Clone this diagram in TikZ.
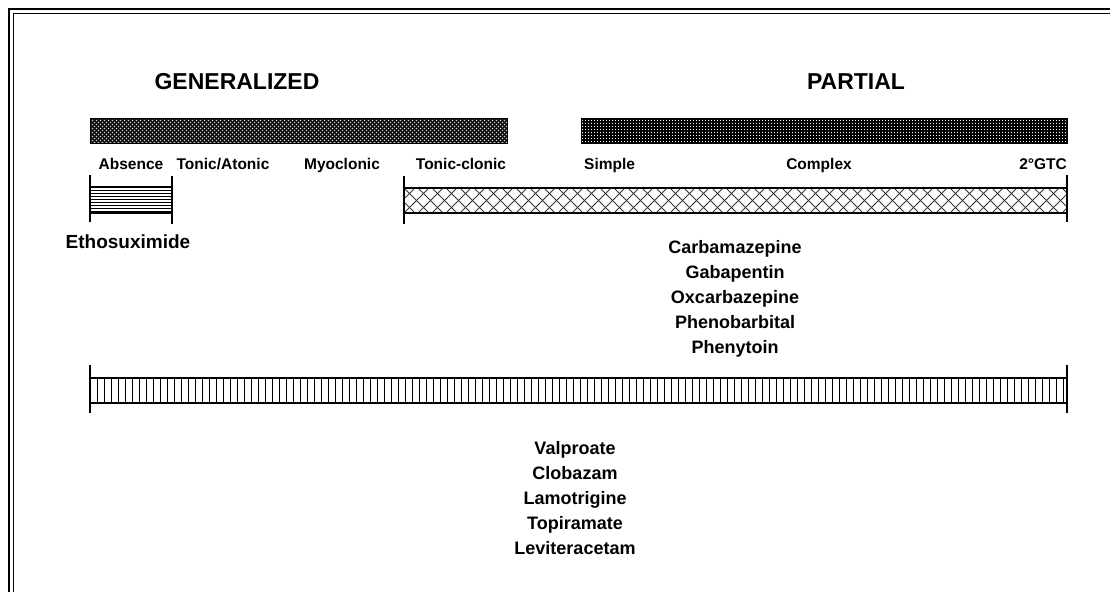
\documentclass[tikz,border=0pt]{standalone}
\usepackage{fontspec}
\setmainfont{Liberation Sans}
\begin{document}
\begin{tikzpicture}[x=1pt,y=-1pt,
  title/.style={font=\fontsize{23}{27}\selectfont\bfseries, inner sep=0pt, anchor=base},
  kind/.style={font=\fontsize{15.5}{18}\selectfont\bfseries, inner sep=0pt, anchor=base},
  drug/.style={font=\fontsize{18}{25}\selectfont\bfseries, inner sep=0pt, anchor=base, align=center},
  tickline/.style={line width=1.2pt},
  edgeline/.style={line width=1.3pt},
  hatchline/.style={line width=0.9pt}]

\useasboundingbox (0,0) rectangle (1110,592);

% double frame along the top and left
\draw[line width=2pt] (8.5,592) -- (8.5,8.5) -- (1110,8.5);
\draw[line width=1.6pt] (13.5,592) -- (13.5,13.5) -- (1110,13.5);

% headings
\node[title] (gen) at (237,89) {GENERALIZED};
\node[title] (par) at (856,89) {PARTIAL};

% generalized band: fine crosshatch
\begin{scope}
  \clip (90,118) rectangle (507,143);
  \fill[black!20] (90,118) rectangle (507,143);
  \foreach \x in {60,64,...,512} {
    \draw[line width=1.1pt] (\x,143) -- ++(25,-25);
    \draw[line width=1.1pt] (\x,118) -- ++(25,25);
  }
\end{scope}
\draw[line width=0.8pt] (90,118) rectangle (507,143);

% partial band: black with white dots
\fill[black] (581,118) rectangle (1067,143);
\foreach \x in {582.5,585.5,...,1066} {
  \draw[white, line width=1pt, dash pattern=on 1pt off 2pt] (\x,119.5) -- (\x,142);
}
\draw[line width=0.8pt] (581,118) rectangle (1067,143);

% seizure types
\node[kind] (abs) at (131,169) {Absence};
\node[kind] (ton) at (223,169) {Tonic/Atonic};
\node[kind] (myo) at (342,169) {Myoclonic};
\node[kind] (tcl) at (461,169) {Tonic-clonic};
\node[kind, anchor=base west] (sim) at (584,169) {Simple};
\node[kind] (cpx) at (819,169) {Complex};
\node[kind, anchor=base east] (gtc) at (1067,169) {2°GTC};

% ethosuximide range: horizontal stripes
\foreach \y in {190,193,...,211} {
  \draw[hatchline] (90,\y) -- (172,\y);
}
\draw[edgeline] (90,187) rectangle (172,213);
\draw[tickline] (90,175) -- (90,222);
\draw[tickline] (172,176) -- (172,224);
\node[drug, font=\fontsize{19}{25}\selectfont\bfseries] (eth) at (128,248) {Ethosuximide};

% partial-spectrum range: diagonal lattice
\begin{scope}
  \clip (404,188) rectangle (1067,213);
  \foreach \x in {376,390,...,1080} {
    \draw[line width=0.8pt, black!80] (\x,213) -- ++(25,-25);
    \draw[line width=0.8pt, black!80] (\x,188) -- ++(25,25);
  }
\end{scope}
\draw[edgeline] (404,188) -- (1067,188);
\draw[edgeline] (404,213) -- (1067,213);
\draw[tickline] (404,176) -- (404,224);
\draw[tickline] (1067,175) -- (1067,222);
\node[drug, anchor=north] (narrow) at (735,240) {Carbamazepine\\Gabapentin\\Oxcarbazepine\\Phenobarbital\\Phenytoin};

% broad-spectrum range: vertical stripes
\draw[edgeline] (90,378) rectangle (1067,403);
\foreach \i in {1,...,139} {
  \draw[line width=1.3pt] ({90.5+\i*7},378) -- ++(0,25);
}
\draw[tickline] (90,365) -- (90,413);
\draw[tickline] (1067,365) -- (1067,413);
\node[drug, anchor=north] (broad) at (575,441) {Valproate\\Clobazam\\Lamotrigine\\Topiramate\\Leviteracetam};
\end{tikzpicture}
\end{document}
